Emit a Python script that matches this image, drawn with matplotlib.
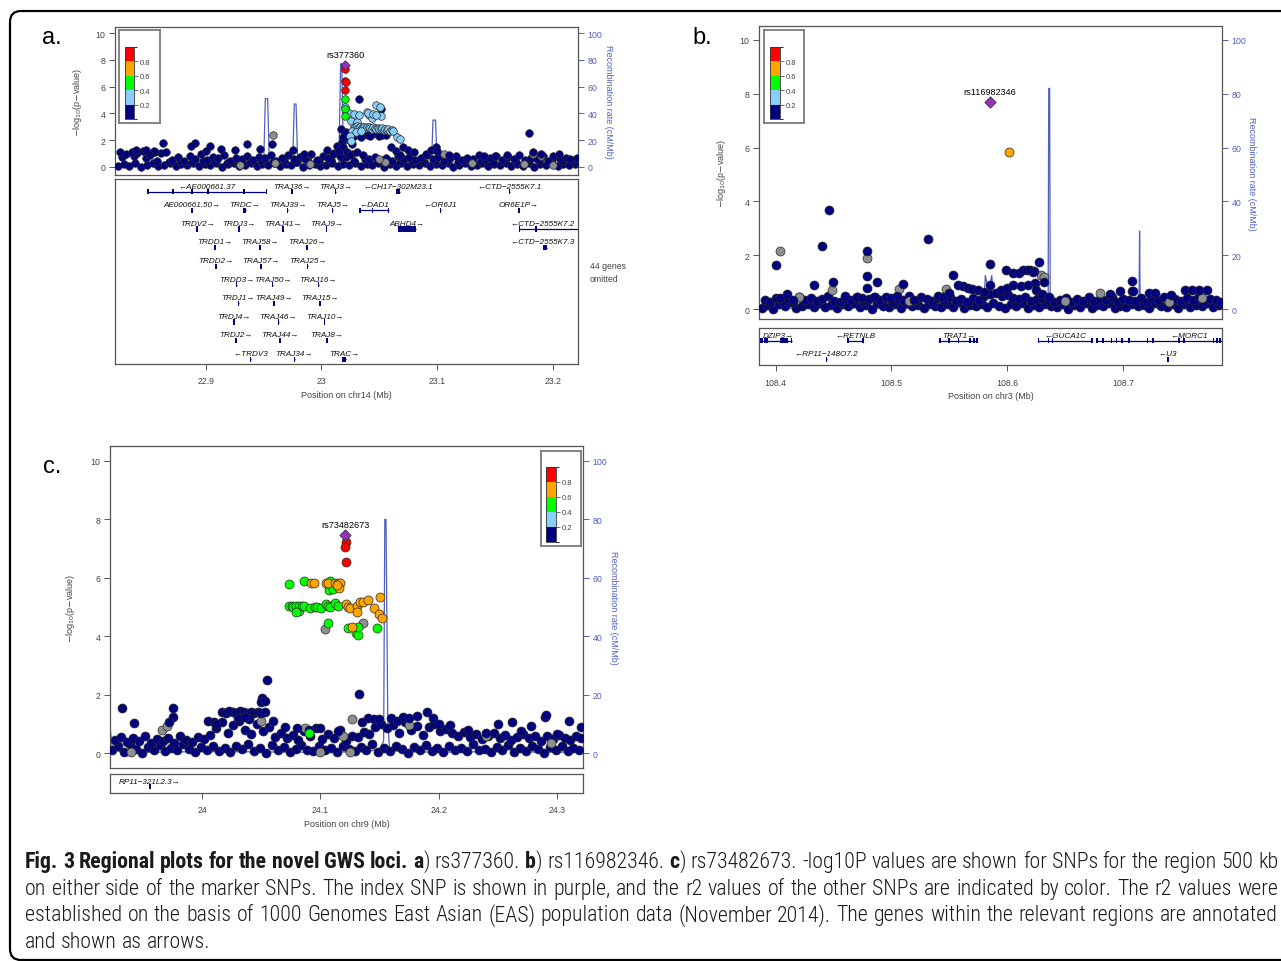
"""Regional association plots (LocusZoom style) for the three novel GWS loci."""

import os

import matplotlib
matplotlib.use("Agg")
import matplotlib.pyplot as plt
from matplotlib import font_manager
from matplotlib.colorbar import ColorbarBase
from matplotlib.colors import BoundaryNorm, ListedColormap
from matplotlib.font_manager import FontProperties
from matplotlib.patches import FancyBboxPatch, Rectangle
from matplotlib.transforms import IdentityTransform

W, H = 1281, 962
plt.rcParams["font.family"] = ["Liberation Sans", "DejaVu Sans"]

NAVY, LTBLUE, GREEN, ORANGE, RED = "#000080", "#87CEFA", "#00FF00", "#FFA500", "#FF0000"
R2_COLORS = [NAVY, LTBLUE, GREEN, ORANGE, RED]
R2_BOUNDS = [0, 0.2, 0.4, 0.6, 0.8, 1.0]
PURPLE, GRAY = "#9632B8", "#8F8F8F"
RECOMB = "#4F5FC0"
AXIS_GRAY, TEXT_GRAY = "#555555", "#444444"

# ---------------- panel a: rs377360, chr14 ----------------
a_lo_x = [22.824, 22.829, 22.834, 22.839, 22.844, 22.849, 22.854, 22.859, 22.864, 22.869,
          22.874, 22.879, 22.884, 22.889, 22.894, 22.899, 22.904, 22.909, 22.914, 22.919,
          22.924, 22.929, 22.934, 22.939, 22.944, 22.949, 22.954, 22.959, 22.964, 22.969,
          22.974, 22.979, 22.984, 22.989, 22.994, 22.999, 23.004, 23.009, 23.014, 23.019,
          23.024, 23.029, 23.034, 23.039, 23.044, 23.049, 23.054, 23.059, 23.064, 23.069,
          23.074, 23.079, 23.084, 23.089, 23.094, 23.099, 23.104, 23.109, 23.114, 23.119,
          23.124, 23.129, 23.134, 23.139, 23.144, 23.149, 23.154, 23.159, 23.164, 23.169,
          23.174, 23.179, 23.184, 23.189, 23.194, 23.199, 23.204, 23.209, 23.214, 23.219]
a_lo_y = [0.05, 0.22, 0.10, 0.30, 0.02, 0.18, 0.28, 0.08, 0.15, 0.33, 0.04, 0.20, 0.12, 0.27,
          0.06, 0.24, 0.14, 0.32, 0.03, 0.19, 0.26, 0.09, 0.17, 0.31, 0.05, 0.21, 0.13, 0.29,
          0.07, 0.23, 0.11, 0.34, 0.02, 0.18, 0.25, 0.08, 0.16, 0.30, 0.04, 0.22, 0.12, 0.28,
          0.06, 0.20, 0.15, 0.33, 0.03, 0.24, 0.10, 0.27, 0.05, 0.19, 0.14, 0.31, 0.07, 0.23,
          0.11, 0.26, 0.02, 0.18, 0.29, 0.09, 0.16, 0.32, 0.04, 0.21, 0.13, 0.28, 0.06, 0.24,
          0.10, 0.30, 0.03, 0.19, 0.15, 0.27, 0.08, 0.22, 0.12, 0.25]
a_mid_x = [22.828, 22.838, 22.848, 22.858, 22.868, 22.878, 22.888, 22.898, 22.908, 22.918,
           22.928, 22.938, 22.948, 22.958, 22.968, 22.978, 22.988, 22.998, 23.008, 23.018,
           23.028, 23.038, 23.048, 23.058, 23.068, 23.078, 23.088, 23.098, 23.108, 23.118,
           23.128, 23.138, 23.148, 23.158, 23.168, 23.178, 23.188, 23.198, 23.208, 23.218]
a_mid_y = [0.75, 0.80, 0.70, 0.45, 0.38, 0.42, 0.35, 0.48, 0.40, 0.33, 0.46, 0.37, 0.44, 0.39,
           0.50, 0.36, 0.43, 0.41, 0.55, 0.65, 0.45, 0.60, 0.40, 0.48, 0.38, 0.44, 0.36, 0.42,
           0.47, 0.35, 0.40, 0.45, 0.38, 0.43, 0.37, 0.46, 0.41, 0.39, 0.44, 0.36]
a_hi_x = [22.826, 22.831, 22.836, 22.841, 22.846, 22.851, 22.856, 22.861, 22.866, 22.871,
          22.876, 22.881, 22.886, 22.891, 22.896, 22.901, 22.906, 22.911, 22.916, 22.921,
          22.926, 22.931, 22.936, 22.941, 22.946, 22.951, 22.956, 22.961, 22.966, 22.971,
          22.976, 22.981, 22.986, 22.991, 22.996, 23.001, 23.006, 23.011, 23.016, 23.021,
          23.026, 23.031, 23.036, 23.041, 23.046, 23.051, 23.056, 23.061, 23.066, 23.071,
          23.076, 23.081, 23.086, 23.091, 23.096, 23.101, 23.106, 23.111, 23.116, 23.121,
          23.126, 23.131, 23.136, 23.141, 23.146, 23.151, 23.156, 23.161, 23.166, 23.171,
          23.176, 23.181, 23.186, 23.191, 23.196, 23.201, 23.206, 23.211, 23.216, 23.221]
a_hi_y = [1.10, 0.95, 1.15, 1.05, 1.18, 0.98, 1.12, 1.02, 1.08, 0.55, 0.72, 0.48, 0.85, 0.62,
          0.95, 0.50, 0.78, 0.66, 0.90, 0.45, 0.70, 0.58, 0.82, 0.52, 0.75, 0.64, 0.92, 0.47,
          0.68, 0.88, 0.56, 0.74, 0.60, 0.98, 0.50, 0.80, 0.65, 1.05, 0.85, 0.72, 0.95, 1.10,
          0.90, 0.62, 0.78, 0.55, 0.70, 0.48, 0.82, 0.60, 0.74, 0.52, 0.68, 0.88, 0.57, 0.76,
          0.46, 0.64, 0.84, 0.53, 0.70, 0.58, 0.90, 0.49, 0.66, 0.79, 0.55, 0.72, 0.61, 0.86,
          0.50, 0.68, 0.57, 0.80, 0.47, 0.73, 0.59, 0.66, 0.52, 0.70]
a_top_x = [23.032, 23.051, 23.179, 22.863, 22.891, 22.887, 22.904, 22.913, 22.936, 22.957,
           22.947, 23.013, 23.017, 23.020, 23.099, 23.183, 23.190, 22.840, 22.848, 22.855,
           22.852, 22.900, 22.925, 22.975, 22.985, 23.005, 23.010, 23.015, 23.018, 23.019,
           23.022, 23.025, 23.060, 23.064, 23.070, 23.075, 23.068, 23.080, 23.090, 23.095,
           23.100, 23.110, 23.140, 23.150, 23.160, 23.200, 23.205, 23.215, 23.028, 23.032,
           23.036, 23.040, 23.044, 23.048, 23.052, 23.056, 23.034, 23.042, 23.050, 23.021,
           23.024, 23.026, 23.019]
a_top_y = [5.10, 4.35, 2.50, 1.80, 1.80, 1.55, 1.60, 1.35, 1.70, 1.70, 1.35, 1.60, 2.85, 2.35,
           1.50, 1.10, 0.95, 1.30, 1.25, 1.20, 0.90, 1.20, 1.30, 1.25, 1.00, 1.25, 1.00, 1.20,
           1.90, 1.50, 1.10, 0.90, 1.50, 1.20, 1.50, 1.30, 0.90, 1.10, 0.95, 1.30, 1.20, 0.90,
           0.85, 0.80, 0.90, 0.85, 1.00, 0.60, 2.30, 2.35, 2.40, 2.40, 2.45, 2.45, 2.40, 2.35,
           2.20, 2.30, 2.30, 2.60, 2.00, 1.70, 2.20]
a_gray_x = [22.958, 23.183, 23.190, 22.960, 23.055, 23.130, 23.175, 23.050, 22.930, 23.106,
            22.990, 23.200]
a_gray_y = [2.40, 1.00, 0.85, 0.30, 0.35, 0.30, 0.20, 0.60, 0.15, 0.95, 0.25, 0.15]
a_ltblue_x = [23.0474, 23.0509, 23.0394, 23.0414, 23.0434, 23.0517, 23.0241, 23.0256, 23.0307,
              23.0277, 23.0290, 23.0303, 23.0316, 23.0329, 23.0342, 23.0355, 23.0368, 23.0381,
              23.0394, 23.0407, 23.0420, 23.0433, 23.0446, 23.0459, 23.0472, 23.0485, 23.0498,
              23.0511, 23.0524, 23.0537, 23.0550, 23.0563, 23.0576, 23.0590, 23.0605, 23.0622,
              23.0260, 23.0300, 23.0340, 23.0250, 23.0255, 23.0650, 23.0680, 23.0203, 23.0280,
              23.0320, 23.0400, 23.0445, 23.0470]
a_ltblue_y = [4.65, 4.45, 4.13, 3.88, 3.68, 3.83, 4.00, 3.46, 3.38, 3.00, 2.95, 3.05, 2.90,
              3.00, 2.85, 2.95, 3.00, 2.88, 2.95, 3.02, 2.90, 2.85, 2.95, 2.88, 2.82, 2.90,
              2.85, 2.80, 2.88, 2.78, 2.85, 2.75, 2.80, 2.72, 2.78, 2.70, 2.70, 2.60, 2.65,
              2.34, 1.96, 2.20, 2.10, 4.50, 3.95, 3.85, 4.00, 3.95, 3.90]
a_green_x = [23.0207, 23.0203, 23.0201]
a_green_y = [5.05, 4.30, 3.80]
a_red_x = [23.0205, 23.0203, 23.0213, 23.0200]
a_red_y = [7.35, 6.40, 6.35, 5.75]
a_index = (23.0207, 7.60, "rs377360")
a_recomb_x = [22.8224, 22.830, 22.850, 22.870, 22.900, 22.930, 22.950, 22.9515, 22.9535,
              22.955, 22.975, 22.9765, 22.978, 22.9795, 23.000, 23.015, 23.0165, 23.0175,
              23.019, 23.030, 23.060, 23.095, 23.0963, 23.0985, 23.100, 23.120, 23.150,
              23.180, 23.2216]
a_recomb_y = [1.0, 0.5, 1.5, 0.8, 1.2, 0.5, 0.5, 51, 51, 0.5, 0.5, 47, 47, 1.0, 1.0, 2.0, 77,
              77, 3.0, 1.0, 0.8, 1.0, 35, 35, 1.0, 0.5, 1.0, 0.5, 0.8]
# name, start, end, row, strand, exon positions
a_genes = [
    ("AE000661.37", 22.8503, 22.9524, 0, -1, [22.8503, 22.8719, 22.8879, 22.9021, 22.9331, 22.9524]),
    ("TRAJ36", 22.9745, 22.9748, 0, 1, []),
    ("TRAJ3", 23.0120, 23.0123, 0, 1, []),
    ("CH17\u2212302M23.1", 23.0642, 23.0678, 0, -1, []),
    ("CTD\u22122555K7.1", 23.1623, 23.1626, 0, -1, []),
    ("AE000661.50", 22.8878, 22.8881, 1, 1, []),
    ("TRDC", 22.9325, 22.9349, 1, 1, []),
    ("TRAJ39", 22.9706, 22.9709, 1, 1, []),
    ("TRAJ5", 23.0094, 23.0097, 1, 1, []),
    ("DAD1", 23.0331, 23.0580, 1, -1, [23.0333, 23.0441, 23.0578]),
    ("OR6J1", 23.1025, 23.1029, 1, -1, []),
    ("OR6E1P", 23.1705, 23.1709, 1, 1, []),
    ("TRDV2", 22.8925, 22.8928, 2, 1, []),
    ("TRDJ3", 22.9286, 22.9289, 2, 1, []),
    ("TRAJ41", 22.9665, 22.9668, 2, 1, []),
    ("TRAJ9", 23.0040, 23.0043, 2, 1, []),
    ("ABHD4", 23.0663, 23.0820, 2, 1, []),
    ("CTD\u22122555K7.2", 23.1707, 23.2245, 2, -1, [23.1710, 23.1855]),
    ("TRDD1", 22.9079, 22.9082, 3, 1, []),
    ("TRAJ58", 22.9469, 22.9472, 3, 1, []),
    ("TRAJ26", 22.9872, 22.9875, 3, 1, []),
    ("CTD\u22122555K7.3", 23.1914, 23.1950, 3, -1, []),
    ("TRDD2", 22.9085, 22.9088, 4, 1, []),
    ("TRAJ57", 22.9478, 22.9481, 4, 1, []),
    ("TRAJ25", 22.9878, 22.9881, 4, 1, []),
    ("TRDD3", 22.9265, 22.9268, 5, 1, []),
    ("TRAJ50", 22.9576, 22.9579, 5, 1, []),
    ("TRAJ16", 22.9972, 22.9975, 5, 1, []),
    ("TRDJ1", 22.9280, 22.9283, 6, 1, []),
    ("TRAJ49", 22.9588, 22.9591, 6, 1, []),
    ("TRAJ15", 22.9987, 22.9990, 6, 1, []),
    ("TRDJ4", 22.9245, 22.9248, 7, 1, []),
    ("TRAJ46", 22.9626, 22.9629, 7, 1, []),
    ("TRAJ10", 23.0026, 23.0029, 7, 1, []),
    ("TRDJ2", 22.9262, 22.9265, 8, 1, []),
    ("TRAJ44", 22.9641, 22.9644, 8, 1, []),
    ("TRAJ8", 23.0046, 23.0049, 8, 1, []),
    ("TRDV3", 22.9384, 22.9387, 9, -1, []),
    ("TRAJ34", 22.9765, 22.9768, 9, 1, []),
    ("TRAC", 23.0180, 23.0210, 9, 1, []),
]

# ---------------- panel b: rs116982346, chr3 ----------------
b_lo_x = [108.388, 108.393, 108.398, 108.403, 108.408, 108.413, 108.418, 108.423, 108.428,
          108.433, 108.438, 108.443, 108.448, 108.453, 108.458, 108.463, 108.468, 108.473,
          108.478, 108.483, 108.488, 108.493, 108.498, 108.503, 108.508, 108.513, 108.518,
          108.523, 108.528, 108.533, 108.538, 108.543, 108.548, 108.553, 108.558, 108.563,
          108.568, 108.573, 108.578, 108.583, 108.588, 108.593, 108.598, 108.603, 108.608,
          108.613, 108.618, 108.623, 108.628, 108.633, 108.638, 108.643, 108.648, 108.653,
          108.658, 108.663, 108.668, 108.673, 108.678, 108.683, 108.688, 108.693, 108.698,
          108.703, 108.708, 108.713, 108.718, 108.723, 108.728, 108.733, 108.738, 108.743,
          108.748, 108.753, 108.758, 108.763, 108.768, 108.773, 108.778, 108.783]
b_lo_y = [0.05, 0.15, 0.02, 0.20, 0.10, 0.25, 0.04, 0.12, 0.18, 0.06, 0.22, 0.09, 0.14, 0.03,
          0.19, 0.11, 0.24, 0.07, 0.16, 0.02, 0.21, 0.13, 0.08, 0.17, 0.05, 0.23, 0.10, 0.15,
          0.03, 0.20, 0.12, 0.06, 0.18, 0.09, 0.25, 0.04, 0.14, 0.11, 0.19, 0.07, 0.22, 0.13,
          0.05, 0.17, 0.10, 0.24, 0.03, 0.15, 0.08, 0.20, 0.12, 0.06, 0.18, 0.02, 0.14, 0.09,
          0.21, 0.05, 0.16, 0.11, 0.23, 0.04, 0.13, 0.08, 0.19, 0.10, 0.15, 0.03, 0.22, 0.12,
          0.07, 0.17, 0.05, 0.20, 0.09, 0.14, 0.11, 0.24, 0.06, 0.16]
b_hi_x = [108.3905, 108.3955, 108.4005, 108.4055, 108.4105, 108.4155, 108.4205, 108.4255,
          108.4305, 108.4355, 108.4405, 108.4455, 108.4505, 108.4555, 108.4605, 108.4655,
          108.4705, 108.4755, 108.4805, 108.4855, 108.4905, 108.4955, 108.5005, 108.5055,
          108.5105, 108.5155, 108.5205, 108.5255, 108.5305, 108.5355, 108.5405, 108.5455,
          108.5505, 108.5555, 108.5605, 108.5655, 108.5705, 108.5755, 108.5805, 108.5855,
          108.5905, 108.5955, 108.6005, 108.6055, 108.6105, 108.6155, 108.6205, 108.6255,
          108.6305, 108.6355, 108.6405, 108.6455, 108.6505, 108.6555, 108.6605, 108.6655,
          108.6705, 108.6755, 108.6805, 108.6855, 108.6905, 108.6955, 108.7005, 108.7055,
          108.7105, 108.7155, 108.7205, 108.7255, 108.7305, 108.7355, 108.7405, 108.7455,
          108.7505, 108.7555, 108.7605, 108.7655, 108.7705, 108.7755, 108.7805, 108.7845]
b_hi_y = [0.35, 0.28, 0.42, 0.30, 0.38, 0.26, 0.45, 0.33, 0.40, 0.29, 0.36, 0.48, 0.31, 0.27,
          0.39, 0.34, 0.44, 0.30, 0.37, 0.46, 0.32, 0.41, 0.28, 0.38, 0.35, 0.47, 0.30, 0.43,
          0.36, 0.29, 0.40, 0.33, 0.45, 0.31, 0.38, 0.27, 0.42, 0.34, 0.50, 0.55, 0.60, 0.48,
          0.52, 0.40, 0.36, 0.44, 0.30, 0.38, 0.42, 0.35, 0.28, 0.33, 0.40, 0.26, 0.37, 0.31,
          0.43, 0.29, 0.36, 0.32, 0.45, 0.27, 0.39, 0.34, 0.30, 0.41, 0.28, 0.37, 0.33, 0.44,
          0.29, 0.38, 0.31, 0.42, 0.35, 0.47, 0.30, 0.39, 0.34, 0.28]
b_top_x = [108.446, 108.440, 108.400, 108.479, 108.479, 108.479, 108.488, 108.532, 108.433,
           108.450, 108.553, 108.585, 108.628, 108.599, 108.605, 108.610, 108.614, 108.617,
           108.620, 108.623, 108.622, 108.624, 108.632, 108.708, 108.708, 108.698, 108.689,
           108.709, 108.723, 108.728, 108.742, 108.754, 108.760, 108.766, 108.773, 108.510,
           108.558, 108.562, 108.566, 108.570, 108.575, 108.580, 108.585, 108.595, 108.600,
           108.605, 108.612, 108.618, 108.625, 108.630, 108.636, 108.404, 108.410, 108.415,
           108.460, 108.470, 108.475, 108.485, 108.495, 108.500, 108.505, 108.520, 108.540,
           108.545, 108.550]
b_top_y = [3.67, 2.33, 1.64, 2.17, 1.24, 0.78, 1.00, 2.62, 0.90, 1.00, 1.28, 1.67, 1.75, 1.45,
           1.35, 1.33, 1.45, 1.45, 1.45, 1.40, 1.36, 0.97, 1.00, 1.05, 0.66, 0.66, 0.57, 0.66,
           0.60, 0.60, 0.53, 0.72, 0.72, 0.72, 0.72, 0.94, 0.90, 0.85, 0.80, 0.75, 0.70, 0.65,
           0.90, 0.70, 0.80, 0.90, 0.85, 0.90, 0.70, 0.55, 0.45, 0.40, 0.55, 0.35, 0.50, 0.45,
           0.40, 0.45, 0.45, 0.40, 0.50, 0.35, 0.50, 0.45, 0.60]
b_gray_x = [108.404, 108.479, 108.449, 108.507, 108.547, 108.629, 108.632, 108.680, 108.420,
            108.515, 108.650, 108.740, 108.768]
b_gray_y = [2.15, 1.90, 0.70, 0.74, 0.74, 1.28, 1.20, 0.60, 0.45, 0.30, 0.30, 0.25, 0.40]
b_orange_x = [108.602]
b_orange_y = [5.84]
b_index = (108.5853, 7.68, "rs116982346")
b_recomb_x = [108.3857, 108.420, 108.460, 108.500, 108.540, 108.560, 108.572, 108.576, 108.5800,
              108.5812, 108.5840, 108.5868, 108.5885, 108.600, 108.620, 108.6355, 108.6360,
              108.6368, 108.6373, 108.660, 108.700, 108.7140, 108.7145, 108.7150, 108.750,
              108.7857]
b_recomb_y = [0.5, 0.3, 0.5, 0.3, 0.5, 0.8, 1.5, 0.4, 1.0, 12.5, 7.0, 12.5, 2.0, 1.0, 1.5, 1.5,
              82, 82, 2.0, 1.0, 0.8, 0.8, 29, 1.0, 0.5, 0.6]
b_genes = [
    ("DZIP3", 108.376, 108.4140, 0, 1, [108.3872, 108.3887, 108.3907, 108.3925, 108.4045,
                                         108.4063, 108.4081, 108.4101, 108.4138]),
    ("RETNLB", 108.4624, 108.4758, 0, -1, [108.4626, 108.4756]),
    ("TRAT1", 108.5418, 108.5743, 0, 1, [108.5420, 108.5499, 108.5582, 108.5678, 108.5716,
                                         108.5741]),
    ("GUCA1C", 108.6269, 108.6737, 0, -1, [108.6271, 108.6358, 108.6394, 108.6735]),
    ("MORC1", 108.6776, 108.8370, 0, -1, [108.6778, 108.6827, 108.6901, 108.6946, 108.6991,
                                          108.7051, 108.7215, 108.7260, 108.7484, 108.7528,
                                          108.7782, 108.7812, 108.7842]),
    ("RP11\u2212148O7.2", 108.4437, 108.4441, 1, -1, []),
    ("U3", 108.7386, 108.7390, 1, -1, []),
]

# ---------------- panel c: rs73482673, chr9 ----------------
c_lo_x = [23.924, 23.929, 23.934, 23.939, 23.944, 23.949, 23.954, 23.959, 23.964, 23.969,
          23.974, 23.979, 23.984, 23.989, 23.994, 23.999, 24.004, 24.009, 24.014, 24.019,
          24.024, 24.029, 24.034, 24.039, 24.044, 24.049, 24.054, 24.059, 24.064, 24.069,
          24.074, 24.079, 24.084, 24.089, 24.094, 24.099, 24.104, 24.109, 24.114, 24.119,
          24.124, 24.129, 24.134, 24.139, 24.144, 24.149, 24.154, 24.159, 24.164, 24.169,
          24.174, 24.179, 24.184, 24.189, 24.194, 24.199, 24.204, 24.209, 24.214, 24.219,
          24.224, 24.229, 24.234, 24.239, 24.244, 24.249, 24.254, 24.259, 24.264, 24.269,
          24.274, 24.279, 24.284, 24.289, 24.294, 24.299, 24.304, 24.309, 24.314, 24.319]
c_lo_y = [0.10, 0.25, 0.05, 0.30, 0.15, 0.02, 0.20, 0.12, 0.28, 0.06, 0.18, 0.09, 0.32, 0.14,
          0.03, 0.22, 0.11, 0.26, 0.07, 0.16, 0.04, 0.24, 0.13, 0.30, 0.08, 0.19, 0.02, 0.27,
          0.10, 0.21, 0.05, 0.15, 0.29, 0.12, 0.06, 0.23, 0.09, 0.17, 0.03, 0.26, 0.14, 0.07,
          0.20, 0.11, 0.31, 0.05, 0.18, 0.08, 0.25, 0.13, 0.02, 0.22, 0.10, 0.28, 0.06, 0.16,
          0.04, 0.24, 0.12, 0.19, 0.07, 0.30, 0.09, 0.15, 0.03, 0.21, 0.11, 0.27, 0.05, 0.17,
          0.08, 0.23, 0.14, 0.02, 0.20, 0.10, 0.26, 0.06, 0.18, 0.12]
c_mid_x = [23.9265, 23.9315, 23.9365, 23.9415, 23.9465, 23.9515, 23.9565, 23.9615, 23.9665,
           23.9715, 23.9765, 23.9815, 23.9865, 23.9915, 23.9965, 24.0015, 24.0065, 24.0115,
           24.0165, 24.0215, 24.0265, 24.0315, 24.0365, 24.0415, 24.0465, 24.0515, 24.0565,
           24.0615, 24.0665, 24.0715, 24.0765, 24.0815, 24.0865, 24.0915, 24.0965, 24.1015,
           24.1065, 24.1115, 24.1165, 24.1215, 24.1265, 24.1315, 24.1365, 24.1415, 24.1465,
           24.1515, 24.1565, 24.1615, 24.1665, 24.1715, 24.1765, 24.1815, 24.1865, 24.1915,
           24.1965, 24.2015, 24.2065, 24.2115, 24.2165, 24.2215, 24.2265, 24.2315, 24.2365,
           24.2415, 24.2465, 24.2515, 24.2565, 24.2615, 24.2665, 24.2715, 24.2765, 24.2815,
           24.2865, 24.2915, 24.2965, 24.3015, 24.3065, 24.3115, 24.3165, 24.3205]
c_mid_y = [0.45, 0.55, 0.38, 0.50, 0.42, 0.58, 0.35, 0.48, 0.40, 0.52, 0.36, 0.60, 0.44, 0.39,
           0.55, 0.47, 0.62, 0.85, 1.05, 0.70, 0.95, 1.10, 0.80, 0.65, 1.00, 0.75, 0.90, 0.55,
           0.70, 0.50, 0.62, 0.45, 0.75, 0.58, 0.85, 0.48, 0.66, 0.52, 0.80, 0.42, 0.60, 0.55,
           0.72, 0.65, 0.90, 1.00, 0.85, 0.95, 0.70, 1.05, 0.78, 0.92, 0.62, 0.88, 1.00, 0.75,
           0.82, 0.68, 0.60, 0.72, 0.55, 0.65, 0.48, 0.58, 0.70, 0.52, 0.62, 0.45, 0.55, 0.66,
           0.50, 0.60, 0.42, 0.57, 0.48, 0.63, 0.53, 0.46, 0.58, 0.50]
c_top_x = [24.017, 24.020, 24.023, 24.026, 24.029, 24.032, 24.035, 24.038, 24.041, 24.044,
           24.047, 24.050, 24.053, 24.055, 24.051, 24.0495, 24.0535, 24.133, 23.9325, 23.942,
           23.975, 23.975, 23.972, 24.135, 24.140, 24.145, 24.150, 24.160, 24.165, 24.170,
           24.175, 24.182, 24.190, 24.195, 24.200, 24.210, 24.250, 24.262, 24.290, 24.291,
           24.310, 24.320, 24.278, 24.005, 24.010, 24.030, 24.040, 24.070, 24.090, 24.100,
           24.115, 24.225, 24.240, 24.270, 24.300, 24.012, 24.036, 24.060, 24.080]
c_top_y = [1.40, 1.38, 1.45, 1.42, 1.36, 1.44, 1.40, 1.35, 1.42, 1.38, 1.41, 1.36, 1.40, 2.49,
           1.90, 1.75, 1.80, 2.01, 1.56, 1.03, 1.56, 1.22, 1.05, 1.05, 1.20, 1.18, 1.15, 1.20,
           1.10, 1.25, 1.20, 1.27, 1.40, 1.20, 1.00, 0.95, 1.00, 1.08, 1.25, 1.30, 1.10, 0.90,
           0.93, 1.10, 1.05, 1.20, 1.15, 0.90, 0.80, 0.85, 0.75, 0.80, 0.70, 0.75, 0.65, 1.00,
           1.25, 1.10, 0.85]
c_gray_x = [23.966, 23.970, 24.104, 24.136, 24.127, 24.119, 24.087, 24.100, 24.125, 24.295,
            24.050, 24.175, 23.940, 24.240]
c_gray_y = [0.80, 0.93, 4.24, 4.45, 1.15, 0.60, 0.85, 0.05, 0.05, 0.33, 1.10, 0.95, 0.05, 0.60]
c_green_x = [24.0738, 24.0864, 24.1080, 24.1074, 24.1105, 24.0738, 24.0756, 24.0771, 24.0793,
             24.0817, 24.0817, 24.0842, 24.0864, 24.0910, 24.0956, 24.0972, 24.1002, 24.1048,
             24.1064, 24.1085, 24.1125, 24.1147, 24.0790, 24.1064, 24.1232, 24.1300, 24.1318,
             24.1315, 24.1483, 24.0901]
c_green_y = [5.80, 5.88, 5.88, 5.57, 5.62, 5.05, 5.03, 5.00, 5.05, 5.04, 4.86, 5.03, 5.05, 4.95,
             5.00, 5.00, 4.97, 5.11, 5.05, 5.00, 5.15, 5.03, 4.84, 4.45, 4.27, 4.10, 4.05, 4.32,
             4.27, 0.69]
c_orange_x = [24.0919, 24.0950, 24.1048, 24.1063, 24.1124, 24.1149, 24.1170, 24.1155, 24.1140,
              24.1216, 24.1232, 24.1247, 24.1308, 24.1308, 24.1339, 24.1363, 24.1400, 24.1501,
              24.1455, 24.1492, 24.1517, 24.1265]
c_orange_y = [5.83, 5.83, 5.83, 5.83, 5.83, 5.83, 5.83, 5.65, 5.75, 5.10, 4.99, 4.95, 5.04,
              4.83, 5.17, 5.17, 5.24, 5.33, 4.97, 4.77, 4.64, 4.30]
c_red_x = [24.1217, 24.1211, 24.1217]
c_red_y = [7.22, 7.06, 6.54]
c_index = (24.1211, 7.47, "rs73482673")
c_recomb_x = [23.9221, 23.924, 23.930, 23.960, 24.000, 24.050, 24.100, 24.140, 24.150, 24.1535,
              24.1545, 24.1555, 24.157, 24.1585, 24.170, 24.200, 24.250, 24.260, 24.270,
              24.300, 24.3221]
c_recomb_y = [9.0, 2.0, 0.5, 0.3, 0.5, 0.4, 0.3, 0.5, 1.5, 4.0, 80, 80, 12, 1.0, 0.5, 0.3, 0.5,
              2.0, 0.4, 0.3, 0.4]
c_genes = [("RP11\u2212321L2.3", 23.9556, 23.9560, 0, 1, [])]

CAPTION = [
    "*Fig. 3 Regional plots for the novel GWS loci. a*) rs377360. *b*) rs116982346. *c*) "
    "rs73482673. -log10P values are shown for SNPs for the region 500 kb",
    "on either side of the marker SNPs. The index SNP is shown in purple, and the r2 values of "
    "the other SNPs are indicated by color. The r2 values were",
    "established on the basis of 1000 Genomes East Asian (EAS) population data (November 2014). "
    "The genes within the relevant regions are annotated",
    "and shown as arrows.",
]

fig = plt.figure(figsize=(W / 100, H / 100), dpi=100)
gene_labels = []


def px_axes(box, **kw):
    x0, y0, x1, y1 = box
    return fig.add_axes([x0 / W, 1 - y1 / H, (x1 - x0) / W, (y1 - y0) / H], **kw)


def style_spines(ax, color=AXIS_GRAY, lw=0.9):
    for spine in ax.spines.values():
        spine.set_color(color)
        spine.set_linewidth(lw)


def draw_assoc(box, xlim, ylim, layers, recomb_x, recomb_y, index, size, label_x):
    ax = px_axes(box)
    ax2 = ax.twinx()
    ax2.plot(recomb_x, recomb_y, color=RECOMB, lw=0.9)
    ax2.set_ylim(ylim[0] * 10, ylim[1] * 10)
    ax2.set_yticks(range(0, 101, 20))
    ax2.tick_params(axis="y", colors=RECOMB, labelsize=6.3, length=4, width=0.7, pad=3)
    for spine in ax2.spines.values():
        spine.set_visible(False)
    ax2.set_ylabel("Recombination rate (cM/Mb)", color=RECOMB, fontsize=6.5, rotation=270)
    ax2.yaxis.set_label_coords(label_x[1], 0.5)
    ax.set_zorder(ax2.get_zorder() + 1)
    ax.patch.set_visible(False)

    for xs, ys, color in layers:
        ax.scatter(xs[:len(ys)], ys[:len(xs)], s=size, c=color, edgecolors="#2a2a2a",
                   linewidths=0.5, zorder=3)
    ix, iy, name = index
    ax.scatter([ix], [iy], s=size * 0.8, marker="D", c=PURPLE, edgecolors="#2a2a2a",
               linewidths=0.5, zorder=4)
    ax.annotate(name, (ix, iy), xytext=(0, 7.5), textcoords="offset points", ha="center",
                va="center", fontsize=6.6)
    ax.set_xlim(xlim)
    ax.set_ylim(ylim)
    ax.set_xticks([])
    ax.set_yticks(range(0, 11, 2))
    ax.tick_params(axis="y", colors=AXIS_GRAY, labelcolor=TEXT_GRAY, labelsize=6.3,
                   length=4, width=0.7, pad=3)
    ax.set_ylabel(r"$-$log$_{10}$(p$-$value)", fontsize=6.5, color=TEXT_GRAY)
    ax.yaxis.set_label_coords(label_x[0], 0.5)
    style_spines(ax)
    return ax


def draw_legend(frame_box, bar_box):
    frame = px_axes(frame_box, zorder=5)
    frame.set_xticks([])
    frame.set_yticks([])
    style_spines(frame, "#7a7a7a", 1.3)
    cax = px_axes(bar_box, zorder=6)
    cb = ColorbarBase(cax, cmap=ListedColormap(R2_COLORS),
                      norm=BoundaryNorm(R2_BOUNDS, len(R2_COLORS)),
                      ticks=[0.2, 0.4, 0.6, 0.8])
    cb.set_ticklabels(["0.2", "0.4", "0.6", "0.8"])
    cb.ax.tick_params(labelsize=5.5, colors=AXIS_GRAY, labelcolor=TEXT_GRAY, length=3,
                      width=0.6, pad=1.5)
    cb.outline.set_edgecolor("#333333")
    cb.outline.set_linewidth(0.6)
    fig.text((bar_box[2] + 4) / W, 1 - (bar_box[1] - 8) / H, r"r$^2$", fontsize=6,
             color=TEXT_GRAY, ha="center", va="center")


def draw_genes(box, xlim, genes, ticks, xlabel):
    gx = px_axes(box)
    rows = (box[3] - box[1]) / 18.6
    gx.set_xlim(xlim)
    gx.set_ylim(rows - 0.38, -0.38)
    width_px = (xlim[1] - xlim[0]) / (box[2] - box[0])
    for name, start, end, row, strand, exons in genes:
        yb = row + 0.31
        gx.plot([start, end], [yb, yb], color=NAVY, lw=0.9, solid_capstyle="butt")
        marks = [(e - width_px * 0.6, e + width_px * 0.6) for e in exons] or [(start, end)]
        for e0, e1 in marks:
            w = max(e1 - e0, width_px * 1.6)
            gx.add_patch(Rectangle(((e0 + e1) / 2 - w / 2, yb - 0.14), w, 0.28,
                                   facecolor=NAVY, edgecolor="none"))
        label = name + "\u2192" if strand > 0 else "\u2190" + name
        t = gx.text((start + end) / 2, row, label, ha="center", va="center", fontsize=5.9,
                    style="italic", color="#111111", clip_on=False)
        gene_labels.append((gx, t))
    gx.set_yticks([])
    gx.set_xticks(ticks)
    gx.set_xticklabels([f"{t:g}" for t in ticks])
    gx.tick_params(axis="x", colors=AXIS_GRAY, labelcolor=TEXT_GRAY, labelsize=6.3, length=4,
                   width=0.7, pad=5)
    gx.set_xlabel(xlabel, fontsize=6.5, color=TEXT_GRAY, labelpad=3)
    style_spines(gx)
    return gx


# panel a
draw_assoc((115, 28, 578, 176), (22.8216, 23.2216), (-0.6, 10.45),
           [(a_lo_x, a_lo_y, NAVY), (a_mid_x, a_mid_y, NAVY), (a_hi_x, a_hi_y, NAVY),
            (a_gray_x, a_gray_y, GRAY), (a_top_x, a_top_y, NAVY),
            (a_ltblue_x, a_ltblue_y, LTBLUE), (a_green_x, a_green_y, GREEN),
            (a_red_x, a_red_y, RED)],
           a_recomb_x, a_recomb_y, a_index, 30, (-0.067, 1.076))
draw_legend((119, 31, 160, 124), (125, 48, 134, 120))
draw_genes((115, 180, 578, 365), (22.8216, 23.2216), a_genes, [22.9, 23.0, 23.1, 23.2],
           "Position on chr14 (Mb)")
fig.text(590 / W, 1 - 267 / H, "44 genes", fontsize=6.3, color=TEXT_GRAY, va="center")
fig.text(590 / W, 1 - 280 / H, "omitted", fontsize=6.3, color=TEXT_GRAY, va="center")

# panel b
draw_assoc((759, 27, 1222, 320), (108.3857, 108.7857), (-0.37, 10.52),
           [(b_lo_x, b_lo_y, NAVY), (b_hi_x, b_hi_y, NAVY), (b_gray_x, b_gray_y, GRAY),
            (b_top_x, b_top_y, NAVY), (b_orange_x, b_orange_y, ORANGE)],
           b_recomb_x, b_recomb_y, b_index, 42, (-0.067, 1.074))
draw_legend((764, 31, 804, 124), (770, 48, 780, 120))
draw_genes((759, 329, 1222, 366), (108.3857, 108.7857), b_genes,
           [108.4, 108.5, 108.6, 108.7], "Position on chr3 (Mb)")

# panel c
draw_assoc((110, 447, 583, 769), (23.9221, 24.3221), (-0.51, 10.51),
           [(c_lo_x, c_lo_y, NAVY), (c_mid_x, c_mid_y, NAVY), (c_gray_x, c_gray_y, GRAY),
            (c_top_x, c_top_y, NAVY), (c_green_x, c_green_y, GREEN),
            (c_orange_x, c_orange_y, ORANGE), (c_red_x, c_red_y, RED)],
           c_recomb_x, c_recomb_y, c_index, 42, (-0.070, 1.074))
draw_legend((541, 452, 581, 547), (546, 468, 556, 543))
draw_genes((110, 775, 583, 794), (23.9221, 24.3221), c_genes, [24.0, 24.1, 24.2, 24.3],
           "Position on chr9 (Mb)")

for label, (px, py) in (("a.", (52, 38)), ("b.", (702, 38)), ("c.", (52, 467))):
    fig.text(px / W, 1 - py / H, label, fontsize=17, ha="center", va="center")

# keep gene labels inside their track
renderer = fig.canvas.get_renderer()
for gx, t in gene_labels:
    abox = gx.get_window_extent(renderer)
    lo, hi = gx.get_xlim()
    per_px = (hi - lo) / abox.width
    bb = t.get_window_extent(renderer)
    shift = 0.0
    if bb.x0 < abox.x0 + 4:
        shift = abox.x0 + 4 - bb.x0
    elif bb.x1 > abox.x1 - 3:
        shift = abox.x1 - 3 - bb.x1
    if shift:
        t.set_x(t.get_position()[0] + shift * per_px)

# outer frame with rounded corners
fig.add_artist(FancyBboxPatch((10, 1), 1320, H - 13, boxstyle="round,pad=0,rounding_size=11",
                              transform=IdentityTransform(), fill=False, lw=1.6,
                              edgecolor="black"))


def pick_caption_font():
    # a condensed family whose regular (light) face is not a bold file
    for name in ["Open Sans Condensed", "Liberation Sans Narrow", "Roboto Condensed",
                 "Open Sans", "Liberation Sans"]:
        for weight in ["light", "normal"]:
            try:
                path = font_manager.findfont(FontProperties(family=name, weight=weight),
                                             fallback_to_default=False)
            except ValueError:
                continue
            if "bold" not in os.path.basename(path).lower():
                return name, weight
    return "DejaVu Sans", "normal"


cap_font, cap_regular = pick_caption_font()
X0, X1 = 25, 1278


def measure(text, weight, size):
    t = fig.text(0, 0, text, fontsize=size, family=cap_font, weight=weight,
                 transform=IdentityTransform())
    w = t.get_window_extent(renderer).width
    t.remove()
    return w


# size the caption so the longest plain line just fills the column
cap_size = 12.5
natural = measure(CAPTION[1], cap_regular, cap_size)
cap_size = min(16.0, cap_size * (X1 - X0) * 0.99 / natural)

space = measure("x x", cap_regular, cap_size) - measure("xx", cap_regular, cap_size)
bold = False
for line_no, line in enumerate(CAPTION):
    words = []
    for word in line.split(" "):
        parts = []
        for i, piece in enumerate(word.split("*")):
            if i > 0:
                bold = not bold
            if piece:
                parts.append((piece, "bold" if bold else cap_regular))
        words.append([(p, wgt, measure(p, wgt, cap_size)) for p, wgt in parts])
    total = sum(w for parts in words for _, _, w in parts)
    last = line_no == len(CAPTION) - 1
    gap = space if last else (X1 - X0 - total) / (len(words) - 1)
    x = X0
    baseline = H - (868 + 26.7 * line_no)
    for parts in words:
        for piece, wgt, w in parts:
            fig.text(x, baseline, piece, fontsize=cap_size, family=cap_font, weight=wgt,
                     va="baseline", color="#1a1a1a", transform=IdentityTransform())
            x += w
        x += gap

fig.savefig("out.png", dpi=100)
